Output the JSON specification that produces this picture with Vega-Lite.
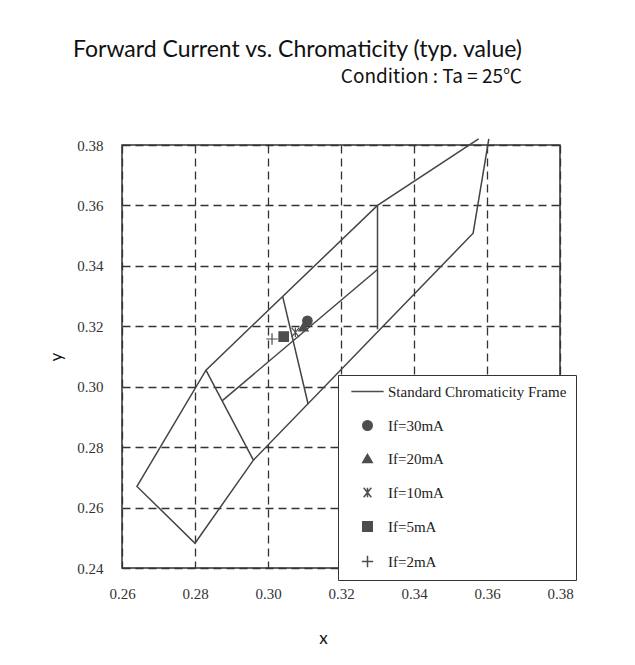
{
  "$schema": "https://vega.github.io/schema/vega-lite/v6.json",
  "width": 438,
  "height": 423,
  "autosize": {"type": "none"},
  "padding": {"left": 122, "top": 145, "right": 75, "bottom": 97},
  "background": "white",
  "title": {
    "text": "Forward Current vs. Chromaticity (typ. value)",
    "subtitle": "Condition : Ta = 25℃",
    "anchor": "end",
    "align": "right",
    "frame": "group",
    "dx": -38,
    "offset": 49,
    "font": "Lato",
    "fontSize": 23,
    "fontWeight": "normal",
    "color": "#111",
    "subtitleFont": "Noto Sans CJK JP",
    "subtitleFontSize": 19,
    "subtitleColor": "#111",
    "subtitlePadding": 6
  },
  "datasets": {
    "frame": [
      {"seg": "outer", "ord": 1, "x": 0.3577, "y": 0.382},
      {"seg": "outer", "ord": 2, "x": 0.3300, "y": 0.360},
      {"seg": "outer", "ord": 3, "x": 0.2830, "y": 0.3055},
      {"seg": "outer", "ord": 4, "x": 0.2641, "y": 0.2670},
      {"seg": "outer", "ord": 5, "x": 0.2800, "y": 0.2482},
      {"seg": "outer", "ord": 6, "x": 0.2960, "y": 0.2757},
      {"seg": "outer", "ord": 7, "x": 0.3562, "y": 0.3508},
      {"seg": "outer", "ord": 8, "x": 0.3605, "y": 0.382},
      {"seg": "mid", "ord": 1, "x": 0.2875, "y": 0.2954},
      {"seg": "mid", "ord": 2, "x": 0.3300, "y": 0.3388},
      {"seg": "vert", "ord": 1, "x": 0.3300, "y": 0.360},
      {"seg": "vert", "ord": 2, "x": 0.3300, "y": 0.3190},
      {"seg": "crossL", "ord": 1, "x": 0.2830, "y": 0.3055},
      {"seg": "crossL", "ord": 2, "x": 0.2960, "y": 0.2757},
      {"seg": "crossM", "ord": 1, "x": 0.3040, "y": 0.3300},
      {"seg": "crossM", "ord": 2, "x": 0.3110, "y": 0.2942}
    ],
    "pts": [
      {"If": "If=30mA", "x": 0.3108, "y": 0.3218},
      {"If": "If=20mA", "x": 0.3097, "y": 0.3198},
      {"If": "If=10mA", "x": 0.3075, "y": 0.3180},
      {"If": "If=5mA", "x": 0.3043, "y": 0.3166},
      {"If": "If=2mA", "x": 0.3011, "y": 0.3158}
    ]
  },
  "layer": [
    {
      "data": {"name": "frame"},
      "mark": {"type": "line", "color": "#444", "strokeWidth": 1.5},
      "encoding": {
        "x": {
          "field": "x", "type": "quantitative",
          "scale": {"domain": [0.26, 0.38], "nice": false, "zero": false},
          "axis": {
            "values": [0.26, 0.28, 0.30, 0.32, 0.34, 0.36, 0.38],
            "format": ".2f",
            "title": "x",
            "labelFont": "Liberation Serif",
            "labelFontSize": 15,
            "labelColor": "#333",
            "labelPadding": 18,
            "labelFlush": false,
            "labelOverlap": false,
            "ticks": false,
            "tickSize": 0,
            "domain": false,
            "grid": true,
            "gridDash": [8, 5],
            "gridColor": "#333",
            "gridWidth": 1.3,
            "gridOpacity": 1,
            "titleFont": "Lato",
            "titleFontSize": 17,
            "titleFontWeight": "normal",
            "titleColor": "#111",
            "titlePadding": 29,
            "titleX": 201
          }
        },
        "y": {
          "field": "y", "type": "quantitative",
          "scale": {"domain": [0.24, 0.38], "nice": false, "zero": false},
          "axis": {
            "values": [0.24, 0.26, 0.28, 0.30, 0.32, 0.34, 0.36, 0.38],
            "format": ".2f",
            "title": "y",
            "labelFont": "Liberation Serif",
            "labelFontSize": 15,
            "labelColor": "#333",
            "labelPadding": 19,
            "labelFlush": false,
            "labelOverlap": false,
            "ticks": false,
            "tickSize": 0,
            "domain": false,
            "grid": true,
            "gridDash": [8, 5],
            "gridColor": "#333",
            "gridWidth": 1.3,
            "gridOpacity": 1,
            "titleFont": "Lato",
            "titleFontSize": 17,
            "titleFontWeight": "normal",
            "titleColor": "#111",
            "titlePadding": 11
          }
        },
        "detail": {"field": "seg"},
        "order": {"field": "ord"}
      }
    },
    {
      "data": {"name": "pts"},
      "mark": {"type": "point", "filled": true, "color": "#4d4d4d", "stroke": "#4d4d4d", "strokeWidth": 1.2, "size": 90, "opacity": 1},
      "encoding": {
        "x": {"field": "x", "type": "quantitative"},
        "y": {"field": "y", "type": "quantitative"},
        "shape": {
          "field": "If", "type": "nominal",
          "scale": {
            "domain": ["Standard Chromaticity Frame", "If=30mA", "If=20mA", "If=10mA", "If=5mA", "If=2mA"],
            "range": ["M-3.4,0H3.4", "circle", "triangle-up", "M-0.8,-1L0.8,1M-0.8,1L0.8,-1M0,-1L0,1", "square", "M-1.2,0H1.2M0,-1.2V1.2"]
          },
          "legend": {
            "title": null,
            "orient": "none",
            "legendX": 216,
            "legendY": 230,
            "fillColor": "white",
            "strokeColor": "#333",
            "padding": 9,
            "symbolOffset": 13,
            "symbolSize": 90,
            "labelOffset": 13,
            "labelFont": "Liberation Serif",
            "labelFontSize": 15,
            "labelColor": "#222",
            "labelLimit": 400,
            "rowPadding": 17,
            "encode": {
              "symbols": {
                "update": {
                  "fill": {"value": "#4d4d4d"},
                  "stroke": {"value": "#4d4d4d"},
                  "strokeWidth": {"value": 1.2},
                  "opacity": {"value": 1}
                }
              }
            }
          }
        }
      }
    }
  ],
  "config": {
    "view": {"stroke": "#333", "strokeWidth": 1.5}
  }
}
